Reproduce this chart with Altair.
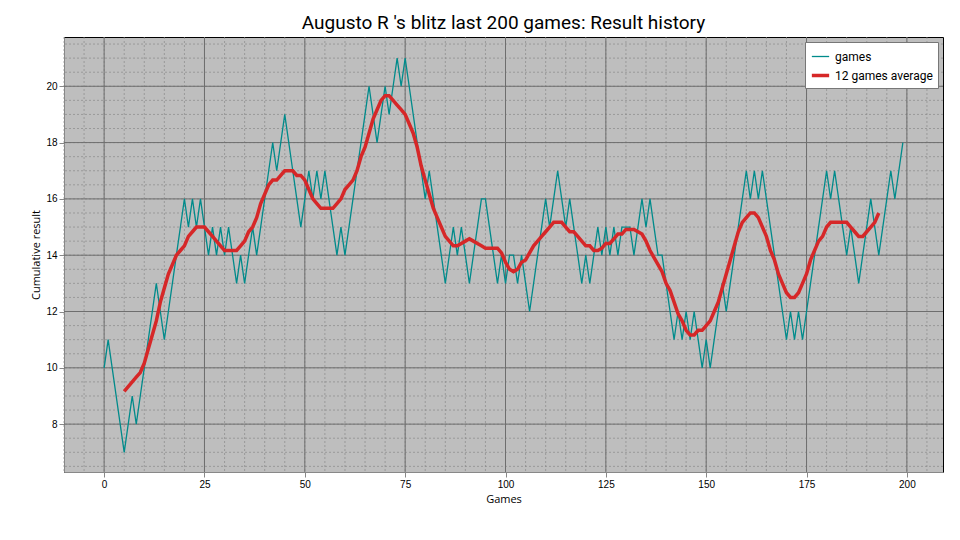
import altair as alt
import pandas as pd

games = list(range(200))
result = [10,11,10,9,8,7,8,9,8,9,10,11,12,13,12,11,12,13,14,15,
          16,15,16,15,16,15,14,15,14,15,14,15,14,13,14,13,14,15,14,15,
          16,17,18,17,18,19,18,17,16,15,16,17,16,17,16,17,16,15,14,15,
          14,15,16,17,18,19,20,19,18,19,20,19,20,21,20,21,20,19,18,17,
          16,17,16,15,14,13,14,15,14,15,14,13,14,15,16,16,15,14,13,14,
          13,14,14,13,14,13,12,13,14,15,16,15,16,17,16,15,16,15,14,13,
          14,13,14,15,14,15,14,15,14,15,15,15,14,15,16,15,16,15,14,14,
          13,12,11,12,11,12,11,12,11,10,11,10,11,12,13,12,13,14,15,16,
          17,16,17,16,17,16,15,14,13,12,11,12,11,12,11,12,13,14,15,16,
          17,16,17,16,15,14,15,14,13,14,15,16,15,14,15,16,17,16,17,18]
avg = pd.Series(result).rolling(12).mean().shift(-6).tolist()

x_minor = list(range(-10, 210, 5))
y_minor = [v / 2 for v in range(13, 44)]
x_major = [0, 25, 50, 75, 100, 125, 150, 175, 200]
y_major = [8, 10, 12, 14, 16, 18, 20]

rows = [{"game": g, "value": v, "series": "games"} for g, v in zip(games, result)]
rows += [{"game": g, "value": v, "series": "12 games average"}
         for g, v in zip(games, avg) if v == v]
df = pd.DataFrame(rows)

xs = alt.Scale(domain=[-10, 209], nice=False, zero=False)
ys = alt.Scale(domain=[6.3, 21.75], nice=False, zero=False)
FONT = "Roboto"

minx = alt.Chart(pd.DataFrame({"x": x_minor})).mark_rule(
    color="#8a8a8a", strokeDash=[2, 2], strokeWidth=0.7).encode(x=alt.X("x:Q", scale=xs))
miny = alt.Chart(pd.DataFrame({"y": y_minor})).mark_rule(
    color="#8a8a8a", strokeDash=[2, 2], strokeWidth=0.7).encode(y=alt.Y("y:Q", scale=ys))
majx = alt.Chart(pd.DataFrame({"x": x_major})).mark_rule(
    color="#6e6e6e", strokeWidth=1).encode(x=alt.X("x:Q", scale=xs))
majy = alt.Chart(pd.DataFrame({"y": y_major})).mark_rule(
    color="#6e6e6e", strokeWidth=1).encode(y=alt.Y("y:Q", scale=ys))

lines = alt.Chart(df).mark_line().encode(
    x=alt.X("game:Q", scale=xs,
            axis=alt.Axis(title="Games", values=x_major, grid=False,
                          titleFontWeight="normal", titleFont="Open Sans")),
    y=alt.Y("value:Q", scale=ys,
            axis=alt.Axis(title="Cumulative result", values=y_major, grid=False,
                          titleFontWeight="normal", titleFont="Open Sans")),
    color=alt.Color("series:N",
                    scale=alt.Scale(domain=["games", "12 games average"],
                                    range=["#008b8b", "#d62728"]),
                    legend=alt.Legend(title=None, orient="top-right", fillColor="white",
                                      strokeColor="#777", padding=5, labelFontSize=12,
                                      symbolType="stroke", symbolSize=300, offset=5,
                                      labelFont=FONT, symbolStrokeWidth=2.5)),
    strokeWidth=alt.StrokeWidth("series:N",
                                scale=alt.Scale(domain=["games", "12 games average"],
                                                range=[1.3, 3.5]),
                                legend=None),
    order=alt.Order("game:Q"),
)

chart = alt.layer(minx, miny, majx, majy, lines).properties(
    width=879, height=435,
    padding={"left": 22, "top": 5, "right": 5, "bottom": 5},
    view=alt.ViewBackground(fill="#bebebe", stroke="black", strokeWidth=1),
    title=alt.Title("Augusto R 's blitz last 200 games: Result history",
                    font=FONT, fontSize=19, fontWeight="normal"),
).configure_axis(labelFontSize=10, titleFontSize=14, labelFont=FONT,
                 domain=False, tickColor="black", labelColor="black", titleColor="black"
).configure(background="white")

chart.save("out.html", embed_options={"renderer": "svg", "actions": False})
